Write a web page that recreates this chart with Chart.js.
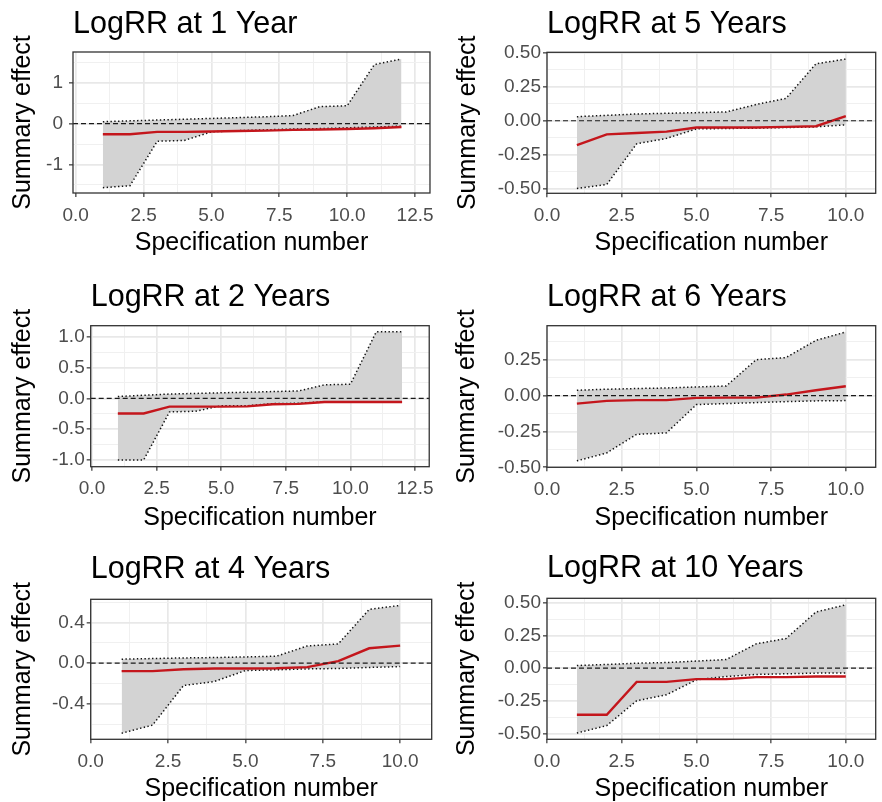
<!DOCTYPE html>
<html>
<head>
<meta charset="utf-8">
<script src="https://cdn.jsdelivr.net/npm/chart.js@4.4.0/dist/chart.umd.min.js"></script>
<style>
  body { margin: 0; background: #fff; }
  #wrap { position: relative; width: 882px; height: 802px; overflow: hidden; }
  #wrap canvas { position: absolute; }
</style>
</head>
<body>
<div id="wrap"></div>
<script>
// specification numbers
const spec12 = [1, 2, 3, 4, 5, 6, 7, 8, 9, 10, 11, 12];
const spec10 = [1, 2, 3, 4, 5, 6, 7, 8, 9, 10];

const xLabels12 = ["0.0", "2.5", "5.0", "7.5", "10.0", "12.5"];
const xLabels10 = ["0.0", "2.5", "5.0", "7.5", "10.0"];

// LogRR at 1 Year
const est1 = [-0.26, -0.26, -0.20, -0.20, -0.19, -0.18, -0.17, -0.15, -0.14, -0.13, -0.11, -0.08];
const lo1  = [-1.57, -1.52, -0.43, -0.41, -0.20, -0.17, -0.15, -0.13, -0.12, -0.10, -0.08, -0.06];
const hi1  = [0.05, 0.07, 0.09, 0.11, 0.13, 0.15, 0.17, 0.20, 0.42, 0.44, 1.45, 1.59];
const yLabels1 = ["-1", "0", "1"];

// LogRR at 5 Years
const est5 = [-0.18, -0.10, -0.09, -0.08, -0.05, -0.05, -0.05, -0.045, -0.04, 0.035];
const lo5  = [-0.50, -0.47, -0.17, -0.13, -0.06, -0.057, -0.054, -0.05, -0.045, -0.03];
const hi5  = [0.03, 0.04, 0.05, 0.055, 0.06, 0.065, 0.12, 0.165, 0.42, 0.455];
const yLabels5 = ["-0.50", "-0.25", "0.00", "0.25", "0.50"];

// LogRR at 2 Years
const est2 = [-0.245, -0.245, -0.135, -0.135, -0.135, -0.13, -0.095, -0.09, -0.06, -0.06, -0.06, -0.06];
const lo2  = [-1.0, -1.0, -0.22, -0.21, -0.12, -0.12, -0.085, -0.08, -0.055, -0.055, -0.055, -0.055];
const hi2  = [0.03, 0.05, 0.07, 0.08, 0.09, 0.10, 0.11, 0.12, 0.22, 0.23, 1.08, 1.08];
const yLabels2 = ["-1.0", "-0.5", "0.0", "0.5", "1.0"];

// LogRR at 6 Years
const est6 = [-0.056, -0.037, -0.032, -0.032, -0.016, -0.014, -0.014, 0.007, 0.037, 0.065];
const lo6  = [-0.455, -0.40, -0.27, -0.26, -0.063, -0.056, -0.049, -0.042, -0.037, -0.035];
const hi6  = [0.037, 0.044, 0.049, 0.053, 0.06, 0.067, 0.25, 0.265, 0.385, 0.443];
const yLabels6 = ["-0.50", "-0.25", "0.00", "0.25"];

// LogRR at 4 Years
const est4 = [-0.078, -0.078, -0.059, -0.052, -0.052, -0.049, -0.039, 0.02, 0.147, 0.173];
const lo4  = [-0.69, -0.61, -0.22, -0.18, -0.072, -0.065, -0.056, -0.052, -0.042, -0.033];
const hi4  = [0.04, 0.046, 0.052, 0.056, 0.062, 0.069, 0.17, 0.19, 0.53, 0.57];
const yLabels4 = ["-0.4", "0.0", "0.4"];

// LogRR at 10 Years
const est10 = [-0.357, -0.357, -0.105, -0.105, -0.084, -0.084, -0.069, -0.069, -0.064, -0.064];
const lo10  = [-0.497, -0.44, -0.25, -0.204, -0.089, -0.064, -0.048, -0.043, -0.038, -0.038];
const hi10  = [0.02, 0.028, 0.038, 0.043, 0.054, 0.066, 0.186, 0.227, 0.43, 0.485];
const yLabels10 = ["-0.50", "-0.25", "0.00", "0.25", "0.50"];

Chart.defaults.font.family = "'Liberation Sans', Arial, sans-serif";

const panels = [
  { title: "LogRR at 1 Year", spec: spec12, est: est1, lo: lo1, hi: hi1, xl: xLabels12, yl: yLabels1,
    x: [-0.1, 13.05], y: [-1.70, 1.76],
    box: [0, 0, 441, 270], plot: [73, 430.5, 52, 193], titleY: 24.6, xTitleY: 243, yTitleX: 23, yPad: 6 },
  { title: "LogRR at 5 Years", spec: spec10, est: est5, lo: lo5, hi: hi5, xl: xLabels10, yl: yLabels5,
    x: [0, 11], y: [-0.535, 0.505],
    box: [441, 0, 441, 270], plot: [106, 434.7, 52.3, 193.3], titleY: 24.6, xTitleY: 243, yTitleX: 27, yPad: 2 },
  { title: "LogRR at 2 Years", spec: spec12, est: est2, lo: lo2, hi: hi2, xl: xLabels12, yl: yLabels2,
    x: [-0.05, 13.05], y: [-1.11, 1.18],
    box: [0, 270, 441, 270], plot: [90.7, 430, 55.7, 196.7], titleY: 27.3, xTitleY: 248, yTitleX: 23, yPad: 2 },
  { title: "LogRR at 6 Years", spec: spec10, est: est6, lo: lo6, hi: hi6, xl: xLabels10, yl: yLabels6,
    x: [0, 11], y: [-0.50, 0.487],
    box: [441, 270, 441, 270], plot: [106, 434.7, 55.7, 197.3], titleY: 27.3, xTitleY: 248, yTitleX: 26.5, yPad: 2 },
  { title: "LogRR at 4 Years", spec: spec10, est: est4, lo: lo4, hi: hi4, xl: xLabels10, yl: yLabels4,
    x: [0, 11.02], y: [-0.75, 0.63],
    box: [0, 540, 441, 262], plot: [90.7, 431.7, 59.3, 199.3], titleY: 29.6, xTitleY: 249.5, yTitleX: 23, yPad: 2 },
  { title: "LogRR at 10 Years", spec: spec10, est: est10, lo: lo10, hi: hi10, xl: xLabels10, yl: yLabels10,
    x: [0, 11], y: [-0.545, 0.535],
    box: [441, 540, 441, 262], plot: [106, 434.7, 58.3, 199.3], titleY: 28.6, xTitleY: 249.5, yTitleX: 26.5, yPad: 2 }
];

// major ticks from the labels, minor ones halfway between
function buildTicks(labels, min, max) {
  const major = labels.map(Number);
  const half = (major[1] - major[0]) / 2;
  const out = [];
  for (let k = Math.ceil(min / half - 1e-9); k * half <= max + 1e-9; k++) {
    const v = +(k * half).toFixed(6);
    out.push({ value: v, major: major.some(m => Math.abs(m - v) < 1e-6) });
  }
  return out;
}

function labelFor(labels) {
  return v => {
    const hit = labels.find(l => Math.abs(Number(l) - v) < 1e-6);
    return hit === undefined ? "" : hit;
  };
}

const grid = {
  color: c => (c.tick && c.tick.major ? "#e8e8e8" : "#f0f0f0"),
  lineWidth: c => (c.tick && c.tick.major ? 1.7 : 1),
  tickColor: c => (c.tick && c.tick.major ? "#333333" : "rgba(0,0,0,0)"),
  tickLength: 4,
  tickWidth: 1.2
};

// dashed zero line + panel border
const panelFrame = {
  id: "panelFrame",
  afterDatasetsDraw(chart) {
    const { ctx, chartArea: a, scales } = chart;
    const y0 = scales.y.getPixelForValue(0);
    ctx.save();
    ctx.strokeStyle = "#1a1a1a";
    ctx.lineWidth = 1.2;
    ctx.setLineDash([5, 3]);
    ctx.beginPath();
    ctx.moveTo(a.left, y0);
    ctx.lineTo(a.right, y0);
    ctx.stroke();
    ctx.setLineDash([]);
    ctx.strokeStyle = "#333333";
    ctx.lineWidth = 1.3;
    ctx.strokeRect(a.left, a.top, a.right - a.left, a.bottom - a.top);
    ctx.restore();
  }
};

const wrap = document.getElementById("wrap");

panels.forEach(p => {
  const [bx, by, bw, bh] = p.box;
  const [pl, pr, pt, pb] = p.plot;
  const canvas = document.createElement("canvas");
  canvas.width = bw;
  canvas.height = bh;
  canvas.style.left = bx + "px";
  canvas.style.top = by + "px";
  wrap.appendChild(canvas);

  const pts = arr => p.spec.map((s, i) => ({ x: s, y: arr[i] }));
  const titlePadTop = p.titleY - 18.3;
  const titlePadBottom = pt - titlePadTop - 36.6;
  const xTitlePad = bh - 12.5 - p.xTitleY;
  const yTitlePad = p.yTitleX - 12.5;

  new Chart(canvas, {
    type: "line",
    data: {
      datasets: [
        { data: pts(p.est), borderColor: "#c4161c", borderWidth: 2.4, pointRadius: 0, fill: false },
        { data: pts(p.lo), borderColor: "#111", borderWidth: 1.5, borderDash: [1.4, 2.4], pointRadius: 0, fill: false },
        { data: pts(p.hi), borderColor: "#111", borderWidth: 1.5, borderDash: [1.4, 2.4], pointRadius: 0,
          fill: "-1", backgroundColor: "#d3d3d3" }
      ]
    },
    options: {
      responsive: false,
      animation: false,
      events: [],
      layout: { padding: { left: 0, top: 0, bottom: 0, right: bw - pr } },
      plugins: {
        legend: { display: false },
        tooltip: { enabled: false },
        title: {
          display: true,
          text: p.title,
          align: "start",
          fullSize: false,
          color: "#000",
          font: { size: 30.5, weight: "normal", lineHeight: 1.2 },
          padding: { top: titlePadTop, bottom: titlePadBottom }
        }
      },
      scales: {
        x: {
          type: "linear",
          min: p.x[0],
          max: p.x[1],
          grid: grid,
          border: { display: false },
          afterBuildTicks: s => { s.ticks = buildTicks(p.xl, p.x[0], p.x[1]); },
          afterFit: s => { s.height = bh - pb; },
          ticks: { autoSkip: false, maxRotation: 0, padding: 7, color: "#4d4d4d", font: { size: 19 },
                   callback: labelFor(p.xl) },
          title: { display: true, text: "Specification number", color: "#000",
                   font: { size: 25, lineHeight: 1 }, padding: { top: xTitlePad, bottom: xTitlePad } }
        },
        y: {
          min: p.y[0],
          max: p.y[1],
          grid: grid,
          border: { display: false },
          afterBuildTicks: s => { s.ticks = buildTicks(p.yl, p.y[0], p.y[1]); },
          afterFit: s => { s.width = pl; },
          ticks: { autoSkip: false, padding: p.yPad, color: "#4d4d4d", font: { size: 19 },
                   callback: labelFor(p.yl) },
          title: { display: true, text: "Summary effect", color: "#000",
                   font: { size: 25, lineHeight: 1 }, padding: { top: yTitlePad, bottom: yTitlePad } }
        }
      }
    },
    plugins: [panelFrame]
  });
});
</script>
</body>
</html>
